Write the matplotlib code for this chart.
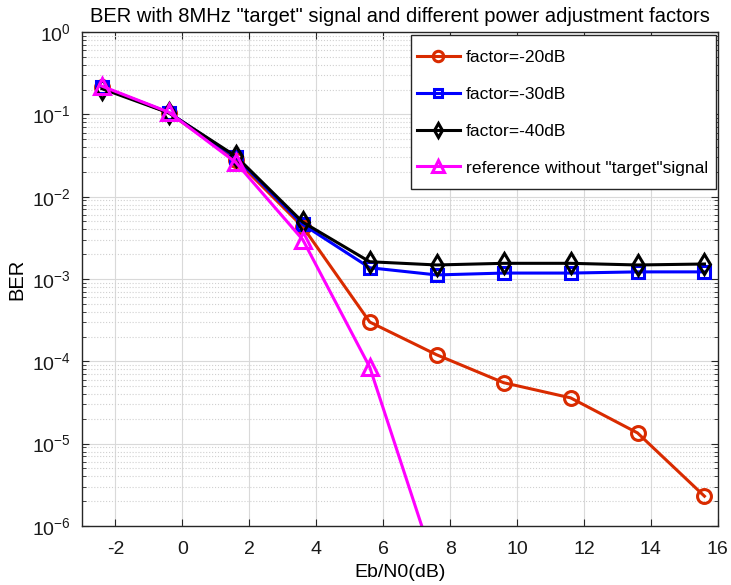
import numpy as np
import matplotlib
matplotlib.use('Agg')
import matplotlib.pyplot as plt
from matplotlib.ticker import FixedLocator, LogFormatterSciNotation, NullFormatter
from matplotlib.patches import Rectangle

plt.rcParams['font.family'] = ['Liberation Sans', 'DejaVu Sans']
plt.rcParams['axes.unicode_minus'] = False
plt.rcParams['mathtext.fontset'] = 'custom'
plt.rcParams['mathtext.rm'] = 'Liberation Sans'
plt.rcParams['mathtext.it'] = 'Liberation Sans:italic'

# Eb/N0 points (dB)
ebn0 = [-2.4, -0.4, 1.6, 3.6, 5.6, 7.6, 9.6, 11.6, 13.6, 15.6]

# BER curves
ber_20 = [0.215, 0.104, 0.028, 4.3e-3, 3.0e-4, 1.2e-4, 5.5e-5, 3.6e-5, 1.35e-5, 2.3e-6]
ber_30 = [0.215, 0.105, 0.030, 4.6e-3, 1.37e-3, 1.12e-3, 1.18e-3, 1.18e-3, 1.22e-3, 1.22e-3]
ber_40 = [0.205, 0.104, 0.031, 4.9e-3, 1.62e-3, 1.48e-3, 1.55e-3, 1.55e-3, 1.48e-3, 1.52e-3]
ber_ref = [0.22, 0.106, 0.026, 3.0e-3, 8.5e-5, 2.8e-7]

labels = ['factor=-20dB', 'factor=-30dB', 'factor=-40dB', 'reference without "target"signal']

fig = plt.figure(figsize=(7.31, 5.85), dpi=100)
ax = fig.add_axes([0.112, 0.1009, 0.870, 0.8444])

ax.semilogy(ebn0, ber_20, '-o', color='#D92B00', linewidth=2.2, markersize=10,
            markerfacecolor='none', markeredgewidth=2.2, label=labels[0])
ax.semilogy(ebn0, ber_30, '-s', color='#0000FF', linewidth=2.2, markersize=8.5,
            markerfacecolor='none', markeredgewidth=2.2, label=labels[1])
ax.semilogy(ebn0, ber_40, '-d', color='black', linewidth=2.2, markersize=10,
            markerfacecolor='none', markeredgewidth=2.2, label=labels[2])
ax.semilogy(ebn0[:len(ber_ref)], ber_ref, '-^', color='#FF00FF', linewidth=2.2, markersize=11,
            markerfacecolor='none', markeredgewidth=2.2, label=labels[3])

ax.set_xlim(-3, 16)
ax.set_ylim(1e-6, 1)
ax.set_xticks(np.arange(-2, 17, 2))
# only ticks inside the y range (no hidden labels below 1e-6)
decades = np.arange(-6, 1)
ax.yaxis.set_major_locator(FixedLocator(10.0 ** decades))
ax.yaxis.set_major_formatter(LogFormatterSciNotation())
ax.yaxis.set_minor_locator(FixedLocator([m * 10.0 ** e for e in decades[:-1] for m in range(2, 10)]))
ax.yaxis.set_minor_formatter(NullFormatter())

ax.grid(True, which='major', color='#d9d9d9', linestyle='-', linewidth=0.8)
ax.grid(True, which='minor', axis='y', color='#d0d0d0', linestyle=':', linewidth=0.8)
ax.set_axisbelow(True)

ax.tick_params(which='both', direction='in', top=True, right=True, colors='#262626',
               labelsize=14, labelcolor='#1a1a1a')
ax.tick_params(axis='x', pad=11)
ax.tick_params(axis='y', pad=8)
ax.tick_params(which='major', length=5)
ax.tick_params(which='minor', length=3)
for s in ax.spines.values():
    s.set_color('#262626')
    s.set_linewidth(1.0)

ax.set_title('BER with 8MHz "target" signal and different power adjustment factors',
             fontsize=14.5, pad=7)
ax.set_xlabel('Eb/N0(dB)', fontsize=14, labelpad=4)
ax.set_ylabel('BER', fontsize=14.5, labelpad=4)

# legend without its own frame, a box with MATLAB-like padding drawn behind it
leg = ax.legend(loc='upper right', bbox_to_anchor=(0.984, 0.9636), fontsize=12.6,
                frameon=False, borderaxespad=0, borderpad=0, labelspacing=1.23,
                handlelength=2.5, handletextpad=0.3, markerscale=0.75)
fig.canvas.draw()
bb = leg.get_window_extent()
inv = ax.transAxes.inverted()
(bx0, by0) = inv.transform((bb.x0 - 6, bb.y0 - 13))
(bx1, by1) = inv.transform((bb.x1 + 8, bb.y1 + 15))
ax.add_patch(Rectangle((bx0, by0), bx1 - bx0, by1 - by0, transform=ax.transAxes,
                       facecolor='white', edgecolor='#262626', linewidth=1.0,
                       zorder=4.9, clip_on=False))

fig.savefig('out.png', dpi=100)
